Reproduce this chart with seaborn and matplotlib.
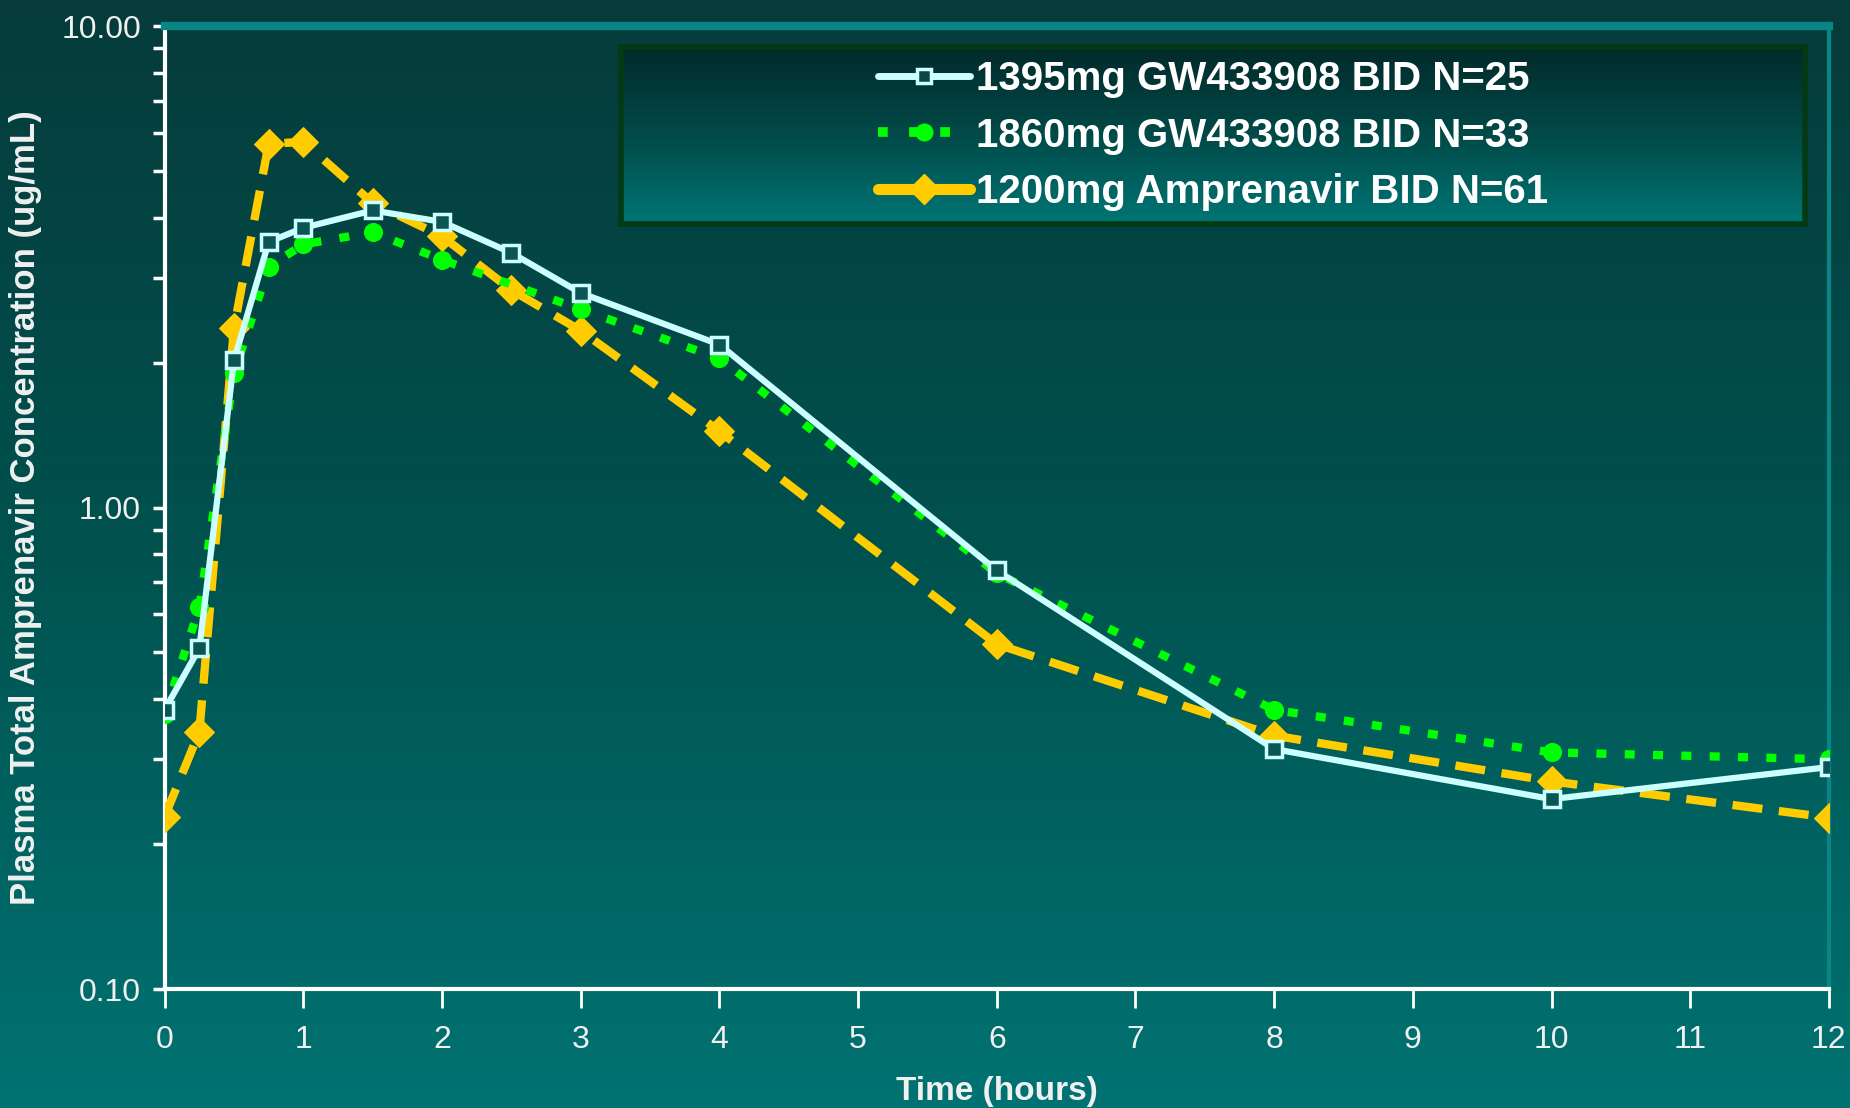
import numpy as np
import pandas as pd
import matplotlib
matplotlib.use("Agg")
import matplotlib.pyplot as plt
import seaborn as sns
from matplotlib.lines import Line2D
from matplotlib.colors import LinearSegmentedColormap
from matplotlib.ticker import FixedLocator, LogLocator, NullFormatter

# ---------------- data ----------------
time_1395 = [0, 0.25, 0.5, 0.75, 1, 1.5, 2, 2.5, 3, 4, 6, 8, 10, 12]
conc_1395 = [0.38, 0.51, 2.02, 3.56, 3.81, 4.14, 3.92, 3.38, 2.79, 2.18, 0.74, 0.315, 0.248, 0.289]

time_1860 = [0, 0.25, 0.5, 0.75, 1, 1.5, 2, 3, 4, 6, 8, 10, 12]
conc_1860 = [0.373, 0.62, 1.90, 3.16, 3.52, 3.73, 3.27, 2.58, 2.04, 0.73, 0.38, 0.31, 0.30]

time_1200 = [0, 0.25, 0.5, 0.75, 1, 1.5, 2, 2.5, 3, 4, 6, 8, 10, 12]
conc_1200 = [0.228, 0.342, 2.36, 5.69, 5.75, 4.29, 3.66, 2.83, 2.33, 1.44, 0.52, 0.336, 0.27, 0.227]

labels = ["1395mg GW433908 BID N=25",
          "1860mg GW433908 BID N=33",
          "1200mg Amprenavir BID N=61"]
x_ticks = list(range(0, 13))
y_ticks = [0.1, 1.0, 10.0]
y_tick_labels = ["0.10", "1.00", "10.00"]

# ---------------- style ----------------
sns.set_theme(style="white")
plt.rcParams["font.family"] = ["Liberation Sans", "DejaVu Sans"]

C_CYAN = "#ccffff"
C_GREEN = "#00ff00"
C_ORANGE = "#ffcc00"
TXT = "#f0f0f0"

fig = plt.figure(figsize=(18.5, 11.08), dpi=100)

# background gradient
bg = fig.add_axes([0, 0, 1, 1], zorder=0)
grad = np.linspace(0, 1, 256).reshape(-1, 1)
bg_cmap = LinearSegmentedColormap.from_list("bg", ["#063b3b", "#00524f", "#007372"])
bg.imshow(grad, aspect="auto", cmap=bg_cmap, extent=[0, 1, 0, 1], origin="upper")
bg.axis("off")

ax = fig.add_axes([0.089, 0.1074, 0.8996, 0.8691], zorder=1)
ax.set_facecolor("none")

df1 = pd.DataFrame({"t": time_1395, "c": conc_1395})
df2 = pd.DataFrame({"t": time_1860, "c": conc_1860})
df3 = pd.DataFrame({"t": time_1200, "c": conc_1200})

sns.lineplot(data=df3, x="t", y="c", ax=ax, color=C_ORANGE, lw=6,
             linestyle=(0, (3.6, 2.0)), marker="D", markersize=15,
             markeredgecolor=C_ORANGE, markerfacecolor=C_ORANGE, zorder=3)
sns.lineplot(data=df2, x="t", y="c", ax=ax, color=C_GREEN, lw=6,
             linestyle=(0, (1.2, 2.2)), marker="o", markersize=13,
             markeredgecolor=C_GREEN, markerfacecolor=C_GREEN, zorder=4)
sns.lineplot(data=df1, x="t", y="c", ax=ax, color=C_CYAN, lw=4.5,
             linestyle="-", marker="s", markersize=11, markeredgewidth=2.5,
             markeredgecolor=C_CYAN, markerfacecolor="#0b5655", zorder=5)

ax.set_yscale("log")
ax.set_xlim(0, 12)
ax.set_ylim(0.1, 10)
ax.xaxis.set_major_locator(FixedLocator(x_ticks))
ax.set_xticklabels([str(v) for v in x_ticks])
ax.yaxis.set_major_locator(FixedLocator(y_ticks))
ax.set_yticklabels(y_tick_labels)
ax.yaxis.set_minor_locator(LogLocator(base=10, subs=np.arange(2, 10)))
ax.yaxis.set_minor_formatter(NullFormatter())

for lab in ax.get_xticklabels() + ax.get_yticklabels():
    lab.set_fontsize(23)
    lab.set_color(TXT)

ax.tick_params(axis="x", which="major", direction="out", length=14, width=2,
               color="white", pad=12, bottom=True)
ax.tick_params(axis="y", which="major", direction="out", length=9, width=2.5,
               color="white", pad=8, left=True)
ax.tick_params(axis="y", which="minor", direction="out", length=9, width=2.5,
               color="white", left=True)

for side in ["left", "bottom"]:
    ax.spines[side].set_color("white")
    ax.spines[side].set_linewidth(3)
ax.spines["top"].set_color("#0a8585")
ax.spines["top"].set_linewidth(6)
ax.spines["right"].set_color("#0a8585")
ax.spines["right"].set_linewidth(3)
ax.grid(False)

ax.set_xlabel("Time (hours)", fontsize=24, fontweight="bold", color=TXT, labelpad=15)
ax.set_ylabel("Plasma Total Amprenavir Concentration (ug/mL)", fontsize=25,
              fontweight="bold", color=TXT, labelpad=14)

# legend box with gradient
lax = fig.add_axes([0.3357, 0.7978, 0.640, 0.1597], zorder=6)
leg_cmap = LinearSegmentedColormap.from_list("lg", ["#022a2a", "#014a48", "#007675"])
lax.imshow(grad, aspect="auto", cmap=leg_cmap, extent=[0, 1, 0, 1], origin="upper")
lax.set_xticks([])
lax.set_yticks([])
for s in lax.spines.values():
    s.set_color("#033a14")
    s.set_linewidth(4)

handles = [
    Line2D([], [], color=C_CYAN, lw=5, marker="s", markersize=10, markeredgewidth=2.5,
           markeredgecolor=C_CYAN, markerfacecolor="#0b4545"),
    Line2D([], [], color=C_GREEN, lw=7, linestyle=(0, (1.0, 2.2)), marker="o",
           markersize=12, markeredgecolor=C_GREEN, markerfacecolor=C_GREEN),
    Line2D([], [], color=C_ORANGE, lw=8, linestyle="-", marker="D", markersize=15,
           markeredgecolor=C_ORANGE, markerfacecolor=C_ORANGE),
]
leg = lax.legend(handles, labels, loc="center", frameon=False,
                 handlelength=2.3, handletextpad=0.15, labelspacing=0.45,
                 prop=dict(weight="bold", size=29))
for t in leg.get_texts():
    t.set_color("white")

fig.savefig("out.png", dpi=100)
